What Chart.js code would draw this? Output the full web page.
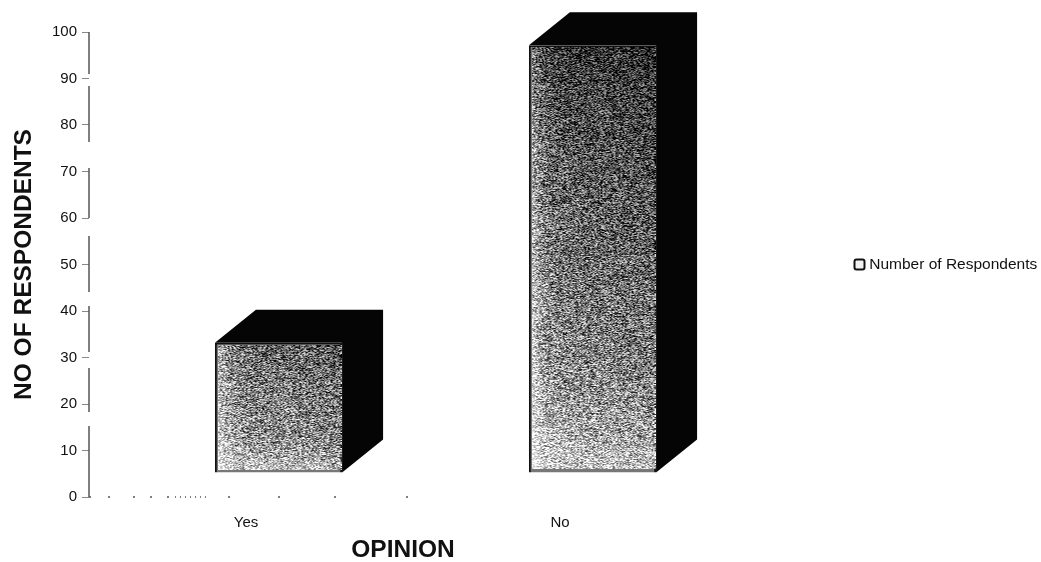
<!DOCTYPE html>
<html>
<head>
<meta charset="utf-8">
<title>Opinion</title>
<style>
  html, body { margin: 0; padding: 0; background: #fff; overflow: hidden; }
  canvas { display: block; }
</style>
<script src="https://cdn.jsdelivr.net/npm/chart.js@4/dist/chart.umd.min.js"></script>
</head>
<body>
<canvas id="opinionChart" width="1041" height="562"></canvas>
<script>
const categories = ['Yes', 'No']
const respondents = [28, 92]
const yTickValues = [0, 10, 20, 30, 40, 50, 60, 70, 80, 90, 100]
const seriesName = 'Number of Respondents'

// 3d look: the front of the bars sits away from the axes, sides go back by depth
const frontShift = { x: 32.5, y: -24 }
const depth = { x: 41, y: -33 }
const font = 'Liberation Sans, Arial, sans-serif'

// the scan left gaps in the axis lines
const yAxisDash = [42, 12, 56, 26, 50, 18, 56, 14, 46, 16, 44, 14, 80]
const xAxisDash = [2, 17, 2, 23, 2, 15, 2, 15, 2, 6, 1, 4, 1, 4, 1, 4, 1, 4, 1, 4, 1, 4, 1, 22, 2, 48, 2, 54, 2, 70, 2, 2000]

// same number every time for a pixel, gives the scanned halftone look
const grain = (x, y) => {
  let h = Math.imul(x + 1, 374761393) ^ Math.imul(y + 1, 668265263)
  h = Math.imul(h ^ (h >>> 15), 2246822519)
  h = Math.imul(h ^ (h >>> 13), 3266489917)
  return ((h ^ (h >>> 16)) >>> 0) / 4294967296
}

const halftone = (w, h) => {
  const tile = document.createElement('canvas')
  tile.width = w
  tile.height = h
  const tileCtx = tile.getContext('2d')
  const img = tileCtx.createImageData(w, h)
  const topLevel = 0.5 - 0.36 * (h / 430)

  for (let y = 0; y < h; y++) {
    for (let x = 0; x < w; x++) {
      const v = y / h
      const level = topLevel + (0.62 - topLevel) * Math.pow(v, 0.6) + 0.25 * Math.pow(v, 8) +
        0.35 * Math.exp(-x / 9) - 0.08 * (x / w)
      const c = Math.max(0, Math.min(255, level * 255 + (grain(x, y) - 0.5) * 260))
      const i = (y * w + x) * 4
      img.data[i] = c
      img.data[i + 1] = c
      img.data[i + 2] = c
      img.data[i + 3] = 255
    }
  }
  tileCtx.putImageData(img, 0, 0)
  return tile
}

const legendSwatch = () => {
  const box = document.createElement('canvas')
  box.width = 13
  box.height = 13
  const boxCtx = box.getContext('2d')
  boxCtx.fillStyle = '#f2f2f2'
  boxCtx.strokeStyle = '#111'
  boxCtx.lineWidth = 2
  boxCtx.beginPath()
  boxCtx.roundRect(1.5, 1.5, 10, 10, 2)
  boxCtx.fill()
  boxCtx.stroke()
  return box
}

const bars3d = {
  id: 'bars3d',
  beforeDatasetDraw(chart) {
    chart.ctx.save()
    chart.ctx.translate(frontShift.x, frontShift.y)
  },
  afterDatasetDraw(chart, args) {
    const ctx = chart.ctx
    args.meta.data.forEach((bar) => {
      const { x, y, base, width } = bar.getProps(['x', 'y', 'base', 'width'], true)
      const left = x - width / 2
      const right = x + width / 2

      ctx.fillStyle = '#050505'
      ctx.beginPath()
      ctx.moveTo(left, y)
      ctx.lineTo(left + depth.x, y + depth.y)
      ctx.lineTo(right + depth.x, y + depth.y)
      ctx.lineTo(right + depth.x, base + depth.y)
      ctx.lineTo(right, base)
      ctx.lineTo(right, y)
      ctx.closePath()
      ctx.fill()

      const w = Math.round(width) - 3
      const h = Math.round(base - y) - 5
      ctx.drawImage(halftone(w, h), Math.round(left) + 3, Math.round(y) + 2)
    })
    ctx.restore()
  }
}

// chart.js ignores dashes on the axis border, so stroke it here from the scales
const brokenAxes = {
  id: 'brokenAxes',
  afterDraw(chart) {
    const { ctx, scales } = chart
    ctx.save()
    ctx.strokeStyle = '#555'
    ctx.lineWidth = 1.5
    ctx.setLineDash(yAxisDash)
    ctx.beginPath()
    ctx.moveTo(scales.x.left, scales.y.top)
    ctx.lineTo(scales.x.left, scales.y.bottom)
    ctx.stroke()
    ctx.setLineDash(xAxisDash)
    ctx.beginPath()
    ctx.moveTo(scales.x.left, scales.y.bottom)
    ctx.lineTo(scales.x.right, scales.y.bottom)
    ctx.stroke()
    ctx.restore()
  }
}

new Chart(document.getElementById('opinionChart'), {
  type: 'bar',
  data: {
    labels: categories,
    datasets: [
      {
        label: seriesName,
        data: respondents,
        backgroundColor: '#777',
        borderColor: '#111',
        borderWidth: 2,
        barPercentage: 0.405,
        categoryPercentage: 1,
        clip: false
      }
    ]
  },
  options: {
    responsive: false,
    animation: false,
    layout: { padding: { top: 32, right: 2, left: 0, bottom: 0 } },
    plugins: {
      title: { display: false },
      tooltip: { enabled: false },
      legend: {
        position: 'right',
        fullSize: false,
        maxWidth: 322,
        labels: {
          usePointStyle: true,
          pointStyle: legendSwatch(),
          pointStyleWidth: 4,
          padding: 140.5,
          color: '#111',
          font: { family: font, size: 15.5 }
        }
      }
    },
    scales: {
      x: {
        afterFit: (scale) => { scale.height = 65 },
        grid: { display: false },
        border: { display: false },
        ticks: { color: '#111', padding: 9, font: { family: font, size: 15 } },
        title: {
          display: true,
          text: 'OPINION',
          color: '#111',
          padding: { top: 0, bottom: -3 },
          font: { family: font, size: 24.5, weight: 'bold' }
        }
      },
      y: {
        min: 0,
        max: 100,
        afterFit: (scale) => { scale.width = 89 },
        afterBuildTicks: (scale) => { scale.ticks = yTickValues.map((value) => ({ value })) },
        grid: { drawOnChartArea: false, drawTicks: true, tickLength: 7, color: '#888' },
        border: { display: false },
        ticks: { color: '#111', padding: 5, font: { family: font, size: 15 } },
        title: {
          display: true,
          text: 'NO OF RESPONDENTS',
          color: '#111',
          padding: { top: 10, bottom: 0 },
          font: { family: font, size: 24.5, weight: 'bold' }
        }
      }
    }
  },
  plugins: [bars3d, brokenAxes]
})
</script>
</body>
</html>
